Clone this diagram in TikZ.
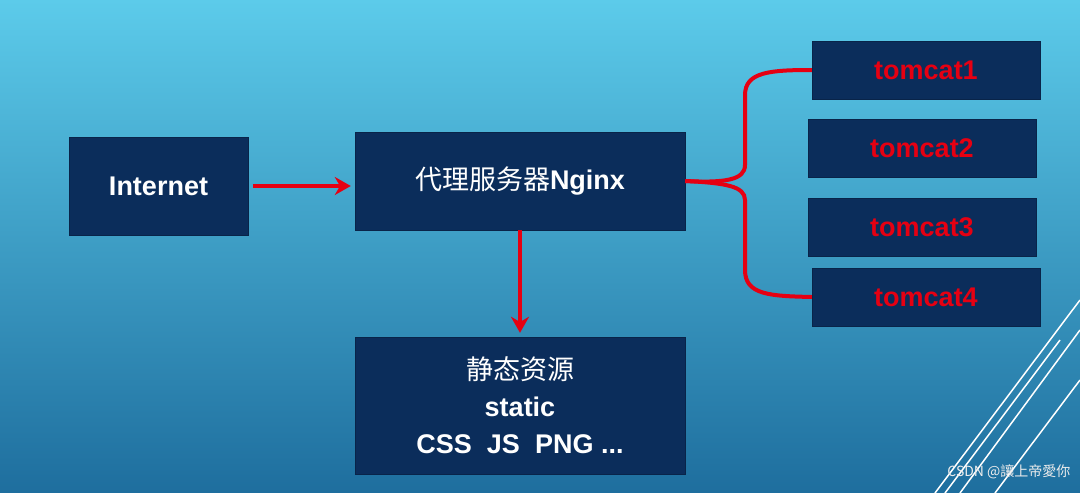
\documentclass[tikz,border=0pt]{standalone}
\usepackage{fontspec}
\setmainfont{Liberation Sans}
\newfontfamily\cjk{Noto Sans CJK SC}
\usetikzlibrary{arrows.meta,calc}
\definecolor{bgtop}{HTML}{5CCBEA}
\definecolor{bgbot}{HTML}{1E6E9E}
\definecolor{navy}{HTML}{0B2D5B}
\definecolor{rd}{HTML}{E60012}
\tikzset{
  box/.style={fill=navy,draw=navy!80!black,inner sep=0pt,text=white,font=\bfseries\fontsize{27}{37}\selectfont,align=center},
  tbox/.style={box,text=rd,minimum width=228pt,minimum height=58pt},
  conn/.style={rd,line width=4pt,-{Stealth[length=16pt,width=18pt]}},
  brace/.style={rd,line width=4pt},
  deco/.style={white,line width=1.5pt}
}
\begin{document}
\begin{tikzpicture}[x=1pt,y=-1pt]
\shade[top color=bgtop,bottom color=bgbot] (0,0) rectangle (1080,493);
\useasboundingbox (0,0) rectangle (1080,493);
% decorative lines
\draw[deco] (1080,300) -- (935,493);
\draw[deco] (1080,330) -- (960,493);
\draw[deco] (1080,380) -- (995,493);
\draw[deco] (1060,340) -- (945,493);
% boxes
\node[box,minimum width=179pt,minimum height=98pt] (inet) at (158.5,186) {Internet};
\node[box,minimum width=330pt,minimum height=98pt] (ngx) at (520,181) {{\cjk\mdseries 代理服务器}Nginx};
\node[box,minimum width=330pt,minimum height=137pt] (st) at (520,405.5) {{\cjk\mdseries 静态资源}\\static\\CSS\ \ JS\ \ PNG ...};
\node[tbox] (t1) at (926,70) {tomcat1};
\node[tbox] (t2) at (922,148) {tomcat2};
\node[tbox] (t3) at (922,227) {tomcat3};
\node[tbox] (t4) at (926,297) {tomcat4};
% connectors
\draw[conn] ($(inet.east)+(5,0)$) -- ($(ngx.west)+(-4,5)$);
\draw[conn] (ngx.south) -- ($(st.north)+(0,-4)$);
\draw[brace] (ngx.east) .. controls (725,183) and (745,180) .. (745,165) -- (745,95) .. controls (745,72) and (770,70) .. (t1.west);
\draw[brace] (ngx.east) .. controls (725,183) and (745,186) .. (745,200) -- (745,270) .. controls (745,295) and (770,296) .. (t4.west);
% watermark
\node[text=white!85!gray,font=\cjk\fontsize{14}{16}\selectfont,anchor=east] (wm) at (1074,472) {CSDN @讓上帝愛你};
\end{tikzpicture}
\end{document}
